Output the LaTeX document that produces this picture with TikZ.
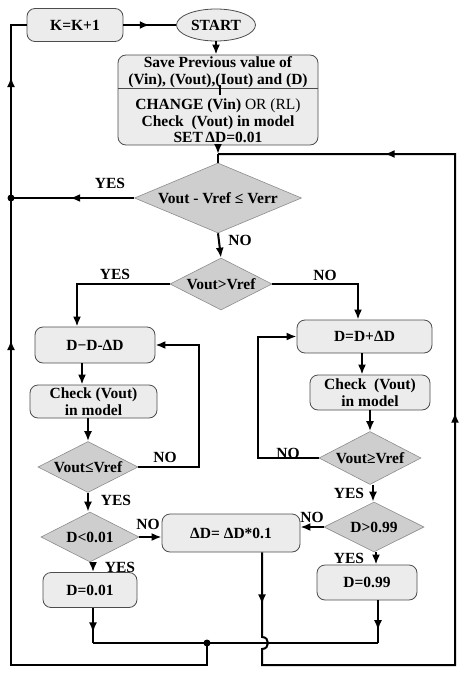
\documentclass[tikz,border=0pt]{standalone}
\usepackage{fontspec}
\setmainfont{Liberation Serif}
\usetikzlibrary{shapes.geometric,decorations.markings,arrows.meta}
\definecolor{boxgray}{RGB}{236,236,236}
\definecolor{diagray}{RGB}{206,206,206}
\begin{document}
\begin{tikzpicture}[x=1pt,y=-1pt,
  font=\bfseries\fontsize{15.5}{16.5}\selectfont,
  flow/.style={line width=2pt},
  box/.style={draw=black!70, line width=0.8pt, fill=boxgray, rounded corners=8pt, inner sep=0pt, align=center},
  dia/.style={diamond, draw=black!45, fill=diagray, inner sep=0pt, line width=0.6pt},
  lbl/.style={inner sep=0pt, align=center},
  arr/.style={-{Latex[length=10pt,width=8pt]}},
  midarr/.style={decoration={markings, mark=at position #1 with {\arrow{Latex[length=10pt,width=8pt]}}}, postaction={decorate}},
]
\useasboundingbox (0,0) rectangle (474,677);

% nodes
\node[box, minimum width=96pt, minimum height=33pt] (K) at (75,25) {K=K+1};
\node[ellipse, draw=black!70, fill=boxgray, line width=0.8pt, inner sep=0pt, minimum width=79pt, minimum height=32pt] (S) at (216,25) {START};
\node[box, minimum width=200pt, minimum height=90pt] (Save) at (218,100) {};
\node[lbl] (SaveT) at (218,72) {Save Previous value of\\(Vin), (Vout),(Iout) and (D)};
\node[lbl] (ChT) at (218,121) {CHANGE (Vin) {\mdseries OR (RL)}\\Check\ \ (Vout) in model\\SET\,ΔD=0.01};
\coordinate (divL) at (118,88);
\coordinate (divR) at (318,88);
\draw[draw=black!70, line width=0.8pt] (divL) -- (divR);
\coordinate (tickT) at (220,85);
\coordinate (tickB) at (220,95);
\draw[line width=1.2pt] (tickT) -- (tickB);

\node[dia, minimum width=167pt, minimum height=70pt] (d1) at (218,198) {};
\node[lbl] (d1t) at (d1) {Vout - Vref ≤ Verr};
\node[dia, minimum width=102pt, minimum height=52pt] (d2) at (221,284) {};
\node[lbl] (d2t) at (d2) {Vout>Vref};

\node[box, minimum width=120pt, minimum height=36pt] (DL) at (95,345) {D−D-ΔD};
\node[box, minimum width=127pt, minimum height=33pt] (CL) at (93.5,401.5) {Check (Vout)\\in model};
\node[dia, minimum width=100pt, minimum height=51pt] (L1) at (88,467) {};
\node[lbl] (L1t) at (L1) {Vout≤Vref};
\node[dia, minimum width=98pt, minimum height=50pt] (L2) at (90,537) {};
\node[lbl] (L2t) at (L2) {D<0.01};
\node[box, minimum width=94pt, minimum height=35pt] (D1) at (90,590) {D=0.01};

\node[box, minimum width=138pt, minimum height=38pt] (DD) at (231,533) {ΔD= ΔD*0.1};

\node[box, minimum width=135pt, minimum height=33pt] (DR) at (364.5,336.5) {D=D+ΔD};
\node[box, minimum width=120pt, minimum height=35pt] (CR) at (370,392.5) {Check\ \ (Vout)\\in model};
\node[dia, minimum width=102pt, minimum height=53pt] (R1) at (370,458) {};
\node[lbl] (R1t) at (R1) {Vout≥Vref};
\node[dia, minimum width=100pt, minimum height=50pt] (R2) at (374,527) {};
\node[lbl] (R2t) at (R2) {D>0.99};
\node[box, minimum width=100pt, minimum height=35pt] (D2) at (367,582.5) {D=0.99};

% labels
\node[lbl] (y1) at (110,183) {YES};
\node[lbl] (n1) at (240,240) {NO};
\node[lbl] (y2) at (115,274) {YES};
\node[lbl] (n2) at (325,275) {NO};
\node[lbl] (n3) at (165,457) {NO};
\node[lbl] (n4) at (288,453) {NO};
\node[lbl] (y3) at (116,500) {YES};
\node[lbl] (y4) at (349,493) {YES};
\node[lbl] (n5) at (148,524) {NO};
\node[lbl] (n6) at (312,517) {NO};
\node[lbl] (y5) at (120,567) {YES};
\node[lbl] (y6) at (349,558) {YES};

% coordinates
\coordinate (j1) at (218,154);
\coordinate (cl) at (11,198);
\coordinate (bl) at (93,643);
\coordinate (br) at (378,643);
\coordinate (bdot) at (207,643);
\coordinate (bdotB) at (207,665);
\coordinate (blc) at (11,665);
\coordinate (tlc) at (11,25);
\coordinate (jt) at (262,637);
\coordinate (jb) at (262,649);
\coordinate (jc1) at (270,637);
\coordinate (jc2) at (270,649);
\coordinate (rb) at (262,665);
\coordinate (rbc) at (455,665);
\coordinate (rtc) at (455,154);

% connectors
\draw[flow, midarr=0.5] (K.east) -- (K.east -| S.west);
\draw[flow, arr] (S.south) -- (S.south |- Save.north);
\draw[flow, arr] (Save.south) -- (j1);
\draw[flow] (j1) -- (d1.north);
\draw[flow, midarr=0.52] (d1.west) -- (cl);
\fill (cl) circle[radius=3.5pt];
\draw[flow, arr] (d1.south) -- (d2.north);
\draw[flow, arr] (d2.west) -| ([xshift=-18pt]DL.north);
\draw[flow, arr] (d2.east) -| ([xshift=-6.5pt]DR.north);

\draw[flow, arr] ([xshift=-13pt]DL.south) -- ([xshift=-13pt]DL.south |- CL.north);
\draw[flow, arr] (CL.south -| L1.north) -- (L1.north);
\draw[flow, arr] (L1.east) -- ++(61,0) |- (DL.east);
\draw[flow, arr] (L1.south) -- (L1.south |- L2.north);
\draw[flow, arr] (L2.east) -- (L2.east -| DD.west);
\draw[flow, arr] ([xshift=3pt]L2.south) -- ([xshift=3pt]L2.south |- D1.north);
\draw[flow, midarr=0.7] (D1.south -| bl) -- (bl);

\draw[flow, arr] ([xshift=-2.5pt]DR.south) -- ([xshift=-2.5pt]DR.south |- CR.north);
\draw[flow, arr] (CR.south -| R1.north) -- (R1.north);
\draw[flow, arr] (R1.west) -- ++(-61,0) |- (DR.west);
\draw[flow, arr] ([xshift=3pt]R1.south) -- ([xshift=3pt]R1.south |- R2.north);
\draw[flow, arr] (R2.west) -- (R2.west -| DD.east);
\draw[flow, arr] ([xshift=2pt]R2.south) -- ([xshift=2pt]R2.south |- D2.north);
\draw[flow, midarr=0.7] (D2.south -| br) -- (br);

\draw[flow] (bl) -- (br);
\fill (bdot) circle[radius=3.5pt];
\draw[flow, decoration={markings,
    mark=at position 543pt with {\arrow{Latex[length=10pt,width=8pt]}},
    mark=at position 806pt with {\arrow{Latex[length=10pt,width=8pt]}}},
    postaction={decorate}]
  (bdot) -- (bdotB) -- (blc) -- (tlc) -- (K.west);
\draw[flow, decoration={markings,
    mark=at position 52pt with {\arrow{Latex[length=10pt,width=8pt]}},
    mark=at position 565pt with {\arrow{Latex[length=10pt,width=8pt]}},
    mark=at position 894pt with {\arrow{Latex[length=10pt,width=8pt]}}},
    postaction={decorate}]
  (DD.south -| jt) -- (jt) .. controls (jc1) and (jc2) .. (jb) -- (rb) -- (rbc) -- (rtc) -- (j1);
\end{tikzpicture}
\end{document}
